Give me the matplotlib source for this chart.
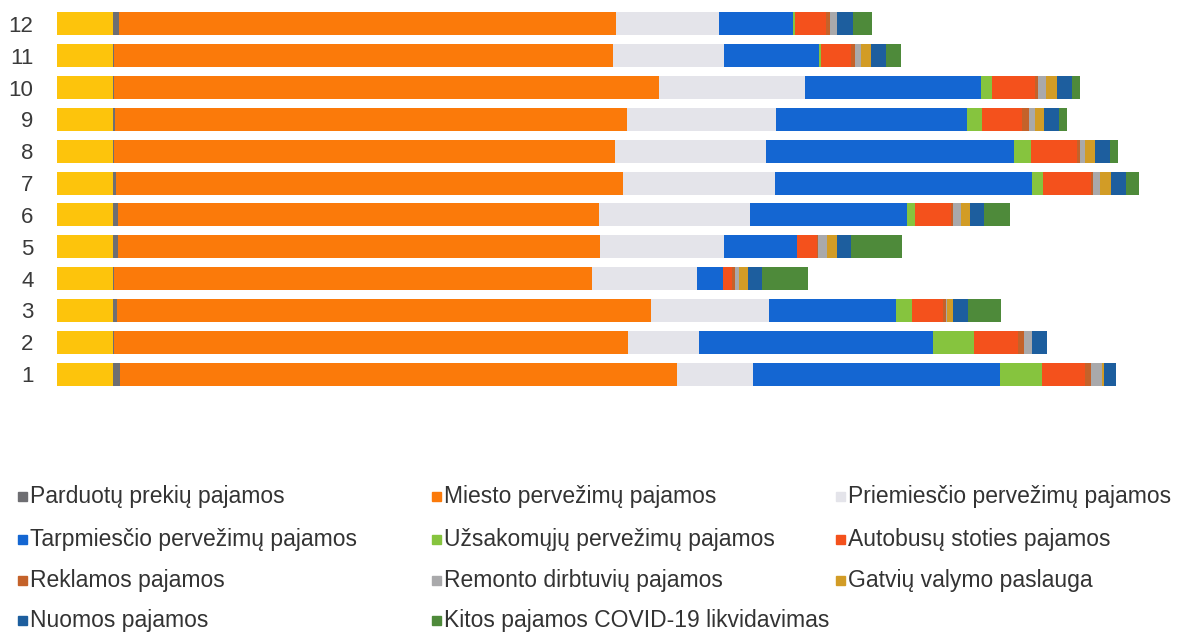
import matplotlib
matplotlib.use('Agg')
from matplotlib import pyplot as plt
from matplotlib.patches import Rectangle

plt.rcParams['font.family'] = ['Liberation Sans', 'DejaVu Sans']

# Rows 1..12 (bottom to top)
rows = ['1', '2', '3', '4', '5', '6', '7', '8', '9', '10', '11', '12']

# first (yellow) segment, not in the legend
pirmas = [56, 56, 56, 56, 56, 56, 56, 56, 56, 56, 56, 56]
parduotu = [7, 0.5, 4, 1, 5, 5, 3, 1, 2, 1, 1, 6]
miesto = [557, 514, 534, 478, 482, 481, 507, 501, 512, 545, 499, 497]
priemiescio = [76, 71, 118, 105, 124, 151, 152, 151, 149, 146, 111, 103]
tarpmiescio = [247, 234, 127, 26, 73, 157, 257, 248, 191, 176, 95, 74]
uzsakomuju = [42, 41, 16, 0, 0, 8, 11, 17, 15, 11, 2, 2]
autobusu = [43, 44, 31, 9, 20, 36, 48, 46, 40, 43, 30, 31]
reklamos = [6, 6, 3, 3, 1, 2, 2, 3, 7, 3, 4, 4]
remonto = [11, 8, 1, 4, 9, 8, 7, 5, 6, 8, 6, 7]
gatviu = [2, 0, 6, 9, 10, 9, 11, 10, 9, 11, 10, 0]
nuomos = [12, 15, 15, 14, 14, 14, 15, 15, 15, 15, 15, 16]
kitos = [0, 0, 33, 46, 51, 26, 13, 8, 8, 8, 15, 19]

labels = ['Parduotų prekių pajamos', 'Miesto pervežimų pajamos',
          'Priemiesčio pervežimų pajamos', 'Tarpmiesčio pervežimų pajamos',
          'Užsakomųjų pervežimų pajamos', 'Autobusų stoties pajamos',
          'Reklamos pajamos', 'Remonto dirbtuvių pajamos',
          'Gatvių valymo paslauga', 'Nuomos pajamos',
          'Kitos pajamos COVID-19 likvidavimas']
colors = ['#6e6e72', '#fb7a0a', '#e4e4ea', '#1466d2', '#86c43e', '#f4511c',
          '#c4622a', '#a9a9ab', '#d29c26', '#1d5e9e', '#4e8a3a']
series = [parduotu, miesto, priemiescio, tarpmiescio, uzsakomuju, autobusu,
          reklamos, remonto, gatviu, nuomos, kitos]

fig = plt.figure(figsize=(11.89, 6.33), dpi=100)
ax = fig.add_axes([57 / 1189, 1 - 390 / 633, 1100 / 1189, 382 / 633])

y = list(range(len(rows)))
ax.barh(y, pirmas, height=0.72, color='#fdc40c')
left = list(pirmas)
for vals, col in zip(series, colors):
    ax.barh(y, vals, left=left, height=0.72, color=col)
    left = [a + b for a, b in zip(left, vals)]

ax.set_xlim(0, 1100)
ax.set_ylim(-0.5, 11.5)
ax.set_yticks(y)
ax.set_yticklabels(rows, fontsize=16, color='#3a3a3a')
ax.tick_params(axis='y', length=0, pad=17)
ax.set_xticks([])
for s in ax.spines.values():
    s.set_visible(False)

# legend, 3 columns, row-major order
col_x = [18, 432, 836]
row_y = [496, 539, 580, 620]
for i, (lab, col) in enumerate(zip(labels, colors)):
    cx = col_x[i % 3]
    cy = row_y[i // 3]
    fig.add_artist(Rectangle((cx / 1189, 1 - (cy + 5) / 633), 9 / 1189, 9 / 633,
                             transform=fig.transFigure, color=col))
    fig.text((cx + 12) / 1189, 1 - (cy + 7) / 633, lab, fontsize=16.5,
             color='#333333', va='baseline', ha='left')

plt.savefig('out.png', dpi=100)
